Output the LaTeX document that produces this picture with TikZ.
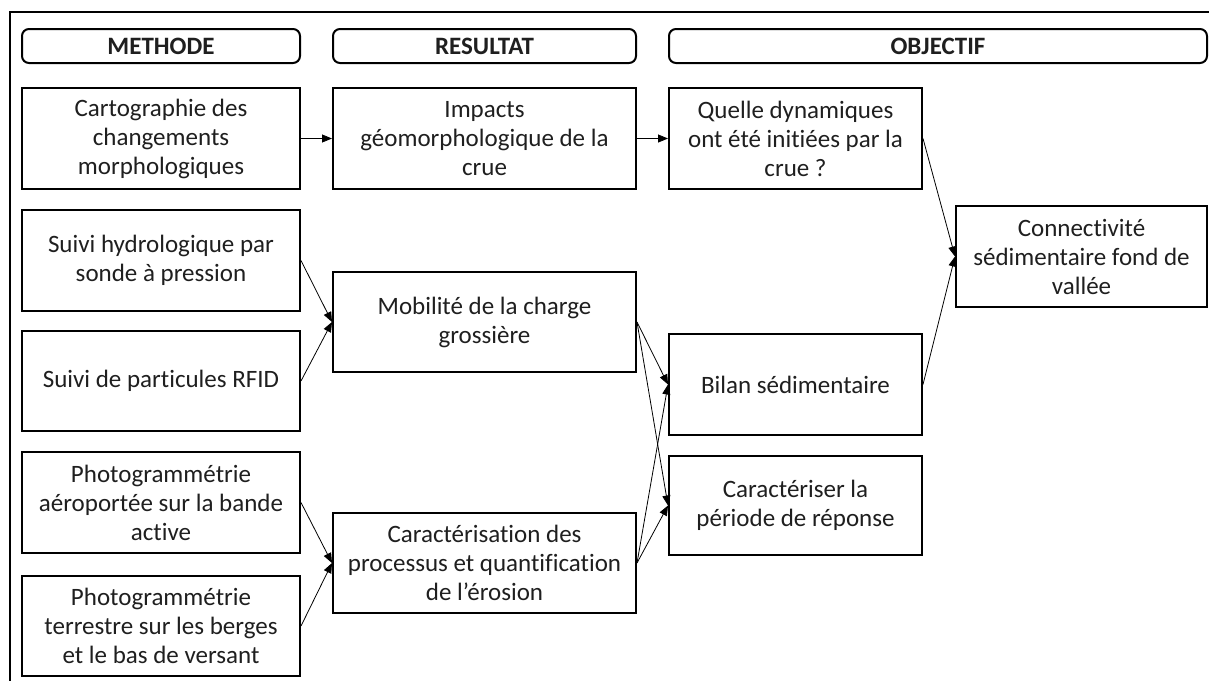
\documentclass[tikz,border=0pt]{standalone}
\usepackage{fontspec}
\setmainfont[Ligatures=NoCommon]{Carlito}
\usetikzlibrary{arrows.meta}
\definecolor{txt}{gray}{0.12}
\tikzset{
  box/.style={draw=black, line width=2pt, align=center, text=txt, inner sep=2pt,
    font=\fontsize{25}{29}\selectfont},
  head/.style={box, rounded corners=7pt, font=\fontsize{25}{29}\selectfont\bfseries, minimum height=34pt},
  conn/.style={draw=black, line width=0.8pt, -{Triangle[length=10pt,width=8pt]}},
}
\begin{document}
\begin{tikzpicture}[x=1pt,y=-1pt]
\useasboundingbox[fill=white] (0,0) rectangle (1209,681);
% outer frame (runs off the right and bottom)
\draw[line width=1.3pt] (1209,12) -- (10,12) -- (10,681);
% headers
\node[head, minimum width=278pt] (hm) at (161,46) {METHODE};
\node[head, minimum width=303pt] (hr) at (484.5,46) {RESULTAT};
\node[head, minimum width=538pt] (ho) at (938,46) {OBJECTIF};
% column 1
\node[box, minimum width=278pt, minimum height=101pt] (cart) at (161,138.5) {Cartographie des\\changements\\morphologiques};
\node[box, minimum width=278pt, minimum height=101pt] (hydro) at (161,260.5) {Suivi hydrologique par\\sonde à pression};
\node[box, minimum width=278pt, minimum height=100pt] (rfid) at (161,381) {Suivi de particules RFID};
\node[box, minimum width=278pt, minimum height=101pt] (aero) at (161,502.5) {Photogrammétrie\\aéroportée sur la bande\\active};
\node[box, minimum width=278pt, minimum height=100pt] (terre) at (161,626) {Photogrammétrie\\terrestre sur les berges\\et le bas de versant};
% column 2
\node[box, minimum width=303pt, minimum height=101pt] (imp) at (484.5,138.5) {Impacts\\géomorphologique de la\\crue};
\node[box, minimum width=303pt, minimum height=100pt] (mob) at (484.5,322) {Mobilité de la charge\\grossière};
\node[box, minimum width=303pt, minimum height=100pt] (proc) at (484.5,563) {Caractérisation des\\processus et quantification\\de l’érosion};
% column 3
\node[box, minimum width=253pt, minimum height=101pt] (quel) at (795.5,138.5) {Quelle dynamiques\\ont été initiées par la\\crue ?};
\node[box, minimum width=253pt, minimum height=101pt] (bil) at (795.5,384.5) {Bilan sédimentaire};
\node[box, minimum width=253pt, minimum height=99pt] (per) at (795.5,505.5) {Caractériser la\\période de réponse};
% column 4
\node[box, minimum width=251pt, minimum height=101pt] (cnx) at (1081.5,256.5) {Connectivité\\sédimentaire fond de\\vallée};
% connectors
\draw[conn] (cart.east) -- (imp.west);
\draw[conn] (imp.east) -- (quel.west);
\draw[conn] (hydro.east) -- (mob.west);
\draw[conn] (rfid.east) -- (mob.west);
\draw[conn] (aero.east) -- (proc.west);
\draw[conn] (terre.east) -- (proc.west);
\draw[conn] (mob.east) -- (bil.west);
\draw[conn] (mob.east) -- (per.west);
\draw[conn] (proc.east) -- (bil.west);
\draw[conn] (proc.east) -- (per.west);
\draw[conn] (quel.east) -- (cnx.west);
\draw[conn] (bil.east) -- (cnx.west);
\end{tikzpicture}
\end{document}
